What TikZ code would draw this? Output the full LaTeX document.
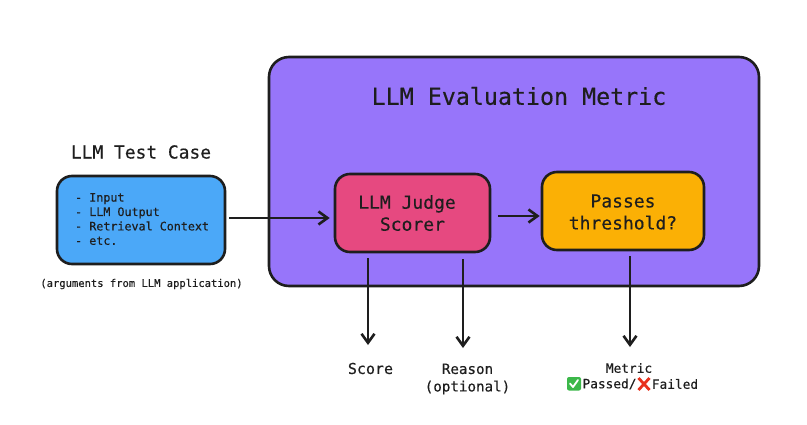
\documentclass[tikz,border=0pt]{standalone}
\usepackage{fontspec}
\setmainfont[FakeBold=0.35]{DejaVu Sans Mono}
\usetikzlibrary{arrows.meta}
\definecolor{ink}{HTML}{1E1E1E}
\definecolor{cblue}{HTML}{4BA8F8}
\definecolor{cpurple}{HTML}{9775FA}
\definecolor{cpink}{HTML}{E64980}
\definecolor{corange}{HTML}{FBB005}
\definecolor{cgreen}{HTML}{3CB84A}
\definecolor{cred}{HTML}{E8321E}
\newcommand{\fs}[1]{\fontsize{#1}{#1}\selectfont}
\tikzset{
  panel/.style={draw=ink,line width=2.6pt,rounded corners=#1,inner sep=0pt},
  txt/.style={text=ink,inner sep=0pt,align=center},
  flow/.style={draw=ink,line width=2.6pt,-{Straight Barb[length=9pt,width=13pt,line width=2.6pt]}},
}
\begin{document}
\begin{tikzpicture}[x=1pt,y=-1pt]
\useasboundingbox (0,0) rectangle (807,424);
\fill[white] (0,0) rectangle (807,424);
% boxes
\node[panel=20pt,fill=cpurple,minimum width=490pt,minimum height=229pt] (metric) at (514,171.5) {};
\node[panel=15pt,fill=cblue,minimum width=168pt,minimum height=88pt] (test) at (141,220) {};
\node[panel=15pt,fill=cpink,minimum width=155pt,minimum height=78pt] (judge) at (412.5,213) {};
\node[panel=15pt,fill=corange,minimum width=162pt,minimum height=78pt] (passes) at (623,211) {};
% titles and box texts
\node[txt,font=\fs{23.3}] (metrictitle) at (519,96) {LLM Evaluation Metric};
\node[txt,font=\fs{17.9}] (testtitle) at (141,152) {LLM Test Case};
\node[txt,anchor=west,align=left,font=\fontsize{11.7}{14.4}\selectfont] (testlist) at (75,219) {- Input\\- LLM Output\\- Retrieval Context\\- etc.};
\node[txt,font=\fs{10.5}] (testnote) at (141.5,284) {(arguments from LLM application)};
\node[txt,font=\fontsize{18}{22}\selectfont] (judgetext) at (407,213) {LLM Judge\\\mbox{}\ Scorer};
\node[txt,font=\fontsize{18}{22}\selectfont] (passestext) at (623,212) {Passes\\threshold?};
% outputs
\node[txt,font=\fs{15}] (score) at (370.5,368.5) {Score};
\node[txt,font=\fontsize{14.2}{17.5}\selectfont] (reason) at (467.5,379) {Reason\\(optional)};
\node[txt,font=\fs{12.8}] (metricout) at (629,368) {Metric};
\node[txt,font=\fs{12.8}] (passed) at (609.5,384) {Passed/};
\node[txt,font=\fs{12.8}] (failed) at (675,384) {Failed};
% status marks
\fill[cgreen,rounded corners=2pt] (567,377) rectangle (581,390.5);
\draw[white,line width=1.8pt,line cap=round,line join=round] (570,383.5) -- (573,387) -- (578,380);
\draw[cred,line width=2.8pt] (638.5,378) -- (649.5,390) (649.5,378) -- (638.5,390);
% connectors
\draw[flow] ([xshift=3pt,yshift=2pt]test.east) -- ([xshift=-4pt,yshift=2pt]test.east -| judge.west);
\draw[flow] ([xshift=7pt,yshift=-3pt]judge.east) -- ([xshift=-1pt,yshift=-3pt]judge.east -| passes.west);
\coordinate (scoretop) at (368,345);
\coordinate (reasontop) at (463,348);
\coordinate (metrictop) at (630,347);
\draw[flow] (judge.south -| scoretop) ++(0,5) -- (scoretop);
\draw[flow] (judge.south -| reasontop) ++(0,6) -- (reasontop);
\draw[flow] (passes.south -| metrictop) ++(0,5) -- (metrictop);
\end{tikzpicture}
\end{document}
